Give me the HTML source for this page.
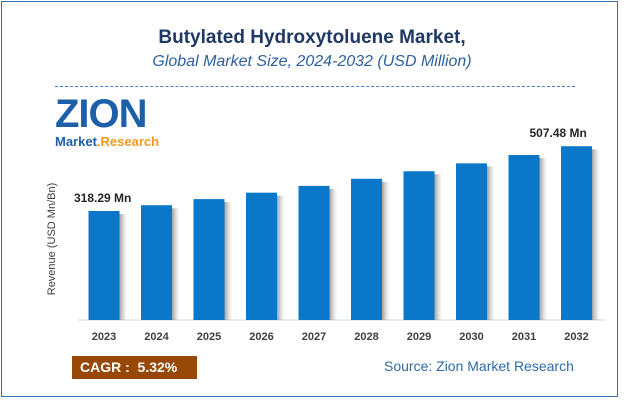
<!DOCTYPE html>
<html><head><meta charset="utf-8"><style>
body{margin:0;background:#fff;font-family:"Liberation Sans",sans-serif}
#wrap{position:relative;width:624px;height:404px;overflow:hidden}
.t{position:absolute;white-space:nowrap}
</style></head><body>
<div id="wrap">
<div style="position:absolute;left:1px;top:1px;width:617px;height:396px;border:1px solid #2e75b6;box-sizing:border-box"></div>
<div class="t" style="left:0;width:624px;text-align:center;top:27px;font-size:19px;font-weight:bold;color:#1f3864">Butylated Hydroxytoluene Market,</div>
<div class="t" style="left:0;width:624px;text-align:center;top:53px;font-size:16px;font-style:italic;color:#2e5f9e">Global Market Size, 2024-2032 (USD Million)</div>
<div style="position:absolute;left:55px;top:86px;width:520px;border-top:1px dashed #4a7fc1"></div>
<div style="position:absolute;left:55px;top:98px">
<div class="t" style="left:0;top:-6px;font-size:40px;font-weight:bold;color:#1d5fa8;letter-spacing:-1px">ZION</div>
<div class="t" style="left:0;top:36px;font-size:13px;font-weight:bold;color:#1d5fa8">Market<span style="color:#f29a1e">.Research</span></div>
</div>
<div class="t" style="left:-18px;top:233px;width:140px;text-align:center;font-size:11px;color:#404040;transform:rotate(-90deg)">Revenue (USD Mn/Bn)</div>
<svg id="chart" width="624" height="404" style="position:absolute;left:0;top:0">
<defs><linearGradient id="sh" x1="0" x2="1"><stop offset="0" stop-color="#888" stop-opacity=".8"/><stop offset="1" stop-color="#ccc" stop-opacity="0"/></linearGradient></defs>
</svg>
<div class="t" style="left:72px;top:356px;width:125px;height:23px;background:#974806;color:#fff;font-weight:bold;font-size:14px;line-height:23px;padding-left:8px;box-sizing:border-box">CAGR : &nbsp;5.32%</div>
<div class="t" style="left:384px;top:358px;font-size:14px;color:#2e6ba8">Source: Zion Market Research</div>
</div>
<script>
const categories=["2023","2024","2025","2026","2027","2028","2029","2030","2031","2032"];
const values=[318.29,335.2,353.0,371.8,391.6,412.4,434.3,457.4,481.7,507.48];
const labels={0:"318.29 Mn",9:"507.48 Mn"};
const svg=document.getElementById('chart');const NS="http://www.w3.org/2000/svg";
const base=320,scale=109/318.29,x0=104,step=52.5,bw=31;
const y=v=>base-v*scale, xc=i=>x0+i*step;
function mk(t,a){const e=document.createElementNS(NS,t);for(const k in a)e.setAttribute(k,a[k]);svg.appendChild(e);return e;}
const ax=mk('line',{x1:78,x2:605,y1:base,y2:base,stroke:'#d9d9d9','stroke-width':1});


values.forEach((v,i)=>{
 const s=mk('rect',{x:xc(i)+bw/2,y:y(v)+3,width:8,height:base-y(v)-3,fill:'url(#sh)'});
 
 
 const r=mk('rect',{x:xc(i)-bw/2,y:y(v),width:bw,height:base-y(v),fill:'#0b77c9'});
 
 
 const t=mk('text',{x:xc(i),y:340,'text-anchor':'middle','font-size':11,'font-weight':'bold',fill:'#404040'});
 t.textContent=categories[i];
 
 
 if(labels[i]){const l=mk('text',{x:i==0?xc(i)-30:xc(i)-47,y:y(v)-9,'font-size':12,'font-weight':'bold',fill:'#262626'});
 l.textContent=labels[i];
 
 }
});
</script>
</body></html>
